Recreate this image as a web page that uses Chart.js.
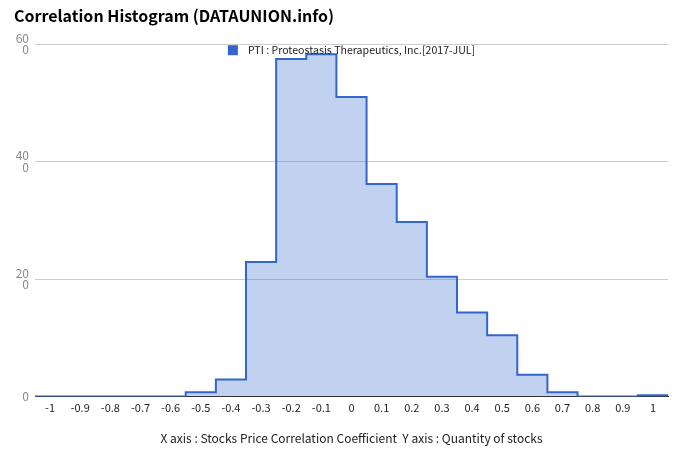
<!DOCTYPE html>
<html>
<head>
<meta charset="utf-8">
<script src="https://cdn.jsdelivr.net/npm/chart.js@4/dist/chart.umd.min.js"></script>
<style>
html,body{margin:0;padding:0;background:#fff;}
#wrap{width:680px;height:462px;}
</style>
</head>
<body>
<div id="wrap"><canvas id="c" width="680" height="462"></canvas></div>
<script>
// Bin centres (correlation coefficient) and counts
const binCenters = [-1,-0.9,-0.8,-0.7,-0.6,-0.5,-0.4,-0.3,-0.2,-0.1,0,0.1,0.2,0.3,0.4,0.5,0.6,0.7,0.8,0.9,1];
const counts     = [0,0,0,0,0,7,29,229,575,583,510,362,297,204,143,104,37,7,0,0,2];
const xTicks = [-1,-0.9,-0.8,-0.7,-0.6,-0.5,-0.4,-0.3,-0.2,-0.1,0,0.1,0.2,0.3,0.4,0.5,0.6,0.7,0.8,0.9,1];
const yTicks = [0,200,400,600];
const binWidth = 0.1;
const seriesLabel = 'PTI : Proteostasis Therapeutics, Inc.[2017-JUL]';
const titleText = 'Correlation Histogram (DATAUNION.info)';
const captionText = 'X axis : Stocks Price Correlation Coefficient  Y axis : Quantity of stocks';

// step points at bin edges
const pts = binCenters.map((c,i)=>({x:+(c-binWidth/2).toFixed(2), y:counts[i]}));
pts.push({x:+(binCenters[binCenters.length-1]+binWidth/2).toFixed(2), y:counts[counts.length-1]});

const FONT = "'Noto Sans CJK KR','Noto Sans',sans-serif";

// legend drawn inside the chart area, centred at its top
const insideLegend = {
  id: 'insideLegend',
  afterDatasetsDraw(chart) {
    const ctx = chart.ctx, a = chart.chartArea;
    ctx.save();
    ctx.font = "10.6px " + FONT;
    const tw = ctx.measureText(seriesLabel).width;
    const total = 10 + 10 + tw;
    const x0 = (a.left + a.right) / 2 - total / 2;
    const yc = a.top + 6;
    ctx.fillStyle = '#3366cc';
    ctx.fillRect(x0, yc - 5, 10, 10);
    ctx.fillStyle = '#222';
    ctx.textBaseline = 'middle';
    ctx.textAlign = 'left';
    ctx.fillText(seriesLabel, x0 + 20, yc);
    ctx.restore();
  }
};

new Chart(document.getElementById('c'), {
  type: 'line',
  data: {
    datasets: [{
      label: seriesLabel,
      data: pts,
      stepped: 'before',
      borderColor: '#3366cc',
      backgroundColor: 'rgba(51,102,204,0.3)',
      borderWidth: 2,
      pointRadius: 0,
      fill: 'origin'
    }]
  },
  plugins: [insideLegend],
  options: {
    responsive: false,
    animation: false,
    layout: { padding: { left: 14, right: 12, top: 0, bottom: 10 } },
    plugins: {
      title: {
        display: true, text: titleText, align: 'start',
        color: '#000', font: { family: FONT, size: 16, weight: 'bold' },
        padding: { top: 6, bottom: 19 }
      },
      legend: { display: false },
      tooltip: { enabled: false }
    },
    scales: {
      x: {
        type: 'linear', min: binCenters[0]-binWidth/2, max: binCenters[binCenters.length-1]+binWidth/2,
        afterBuildTicks: (s) => { s.ticks = xTicks.map(v=>({value:v})); },
        grid: { display: false, drawTicks: false },
        border: { display: true, color: '#333', width: 1 },
        ticks: {
          autoSkip: false, maxRotation: 0, padding: 5,
          color: '#222', font: { family: FONT, size: 11 },
          callback: (v) => String(Number(Number(v).toFixed(1)))
        },
        title: {
          display: true, text: captionText, color: '#222',
          font: { family: FONT, size: 12 }, padding: { top: 12, bottom: 6 }
        }
      },
      y: {
        min: 0, max: 600,
        afterBuildTicks: (s) => { s.ticks = yTicks.map(v=>({value:v})); },
        afterFit: (s) => { s.width = 21; },
        grid: { color: '#cccccc', drawTicks: false },
        border: { display: false },
        ticks: {
          padding: 6, color: '#888', font: { family: FONT, size: 12, lineHeight: 0.95 },
          callback: (v) => { const t = String(v); return t.length > 1 ? [t.slice(0,-1), t.slice(-1)] : t; }
        }
      }
    }
  }
});
</script>
</body>
</html>
